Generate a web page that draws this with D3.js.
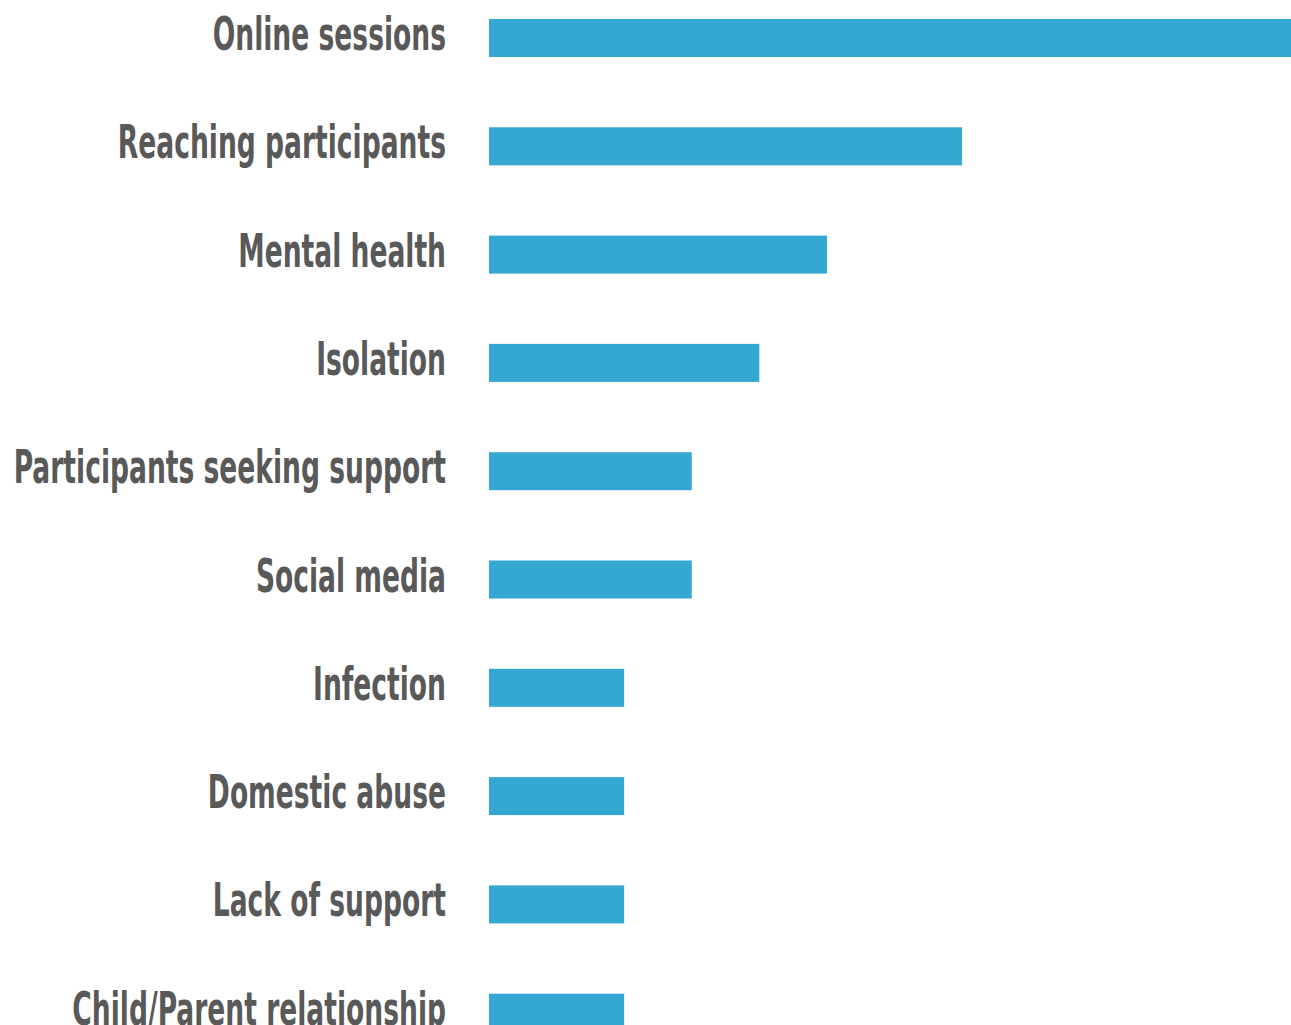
<!DOCTYPE html>
<html>
<head>
<meta charset="utf-8">
<script src="https://cdn.jsdelivr.net/npm/d3@7"></script>
<style>
html,body{margin:0;padding:0;background:#fff;overflow:hidden;}
svg{display:block;}
</style>
</head>
<body>
<svg id="chart" width="1291" height="1025"></svg>
<script>
const categories = ["Online sessions","Reaching participants","Mental health","Isolation","Participants seeking support","Social media","Infection","Domestic abuse","Lack of support","Child/Parent relationship"];
const values = [12,7,5,4,3,3,2,2,2,2];

const svg = d3.select("#chart");
const x = d3.scaleLinear().domain([0,12]).range([489,1300]);
const y = d3.scaleBand().domain(categories).range([-16.15,1066.85]).paddingInner(0.649).paddingOuter(0.3245);

svg.selectAll("rect.bar").data(categories).join("rect")
  .attr("class","bar")
  .attr("x", x(0))
  .attr("y", d => y(d))
  .attr("width", (d,i) => x(values[i]) - x(0))
  .attr("height", y.bandwidth())
  .attr("fill","#35a7d3");

const labelX = 446;
const sx = 0.628;
svg.selectAll("text.lbl").data(categories).join("text")
  .attr("class","lbl")
  .attr("transform", d => `translate(${labelX},${y(d)+y.bandwidth()/2+12}) scale(${sx},1)`)
  .attr("text-anchor","end")
  .attr("font-family","'Liberation Sans Narrow','DejaVu Sans Condensed',sans-serif")
  .attr("font-weight","bold")
  .attr("font-size",47)
  .attr("fill","#595959")
  .text(d => d);
</script>
</body>
</html>
